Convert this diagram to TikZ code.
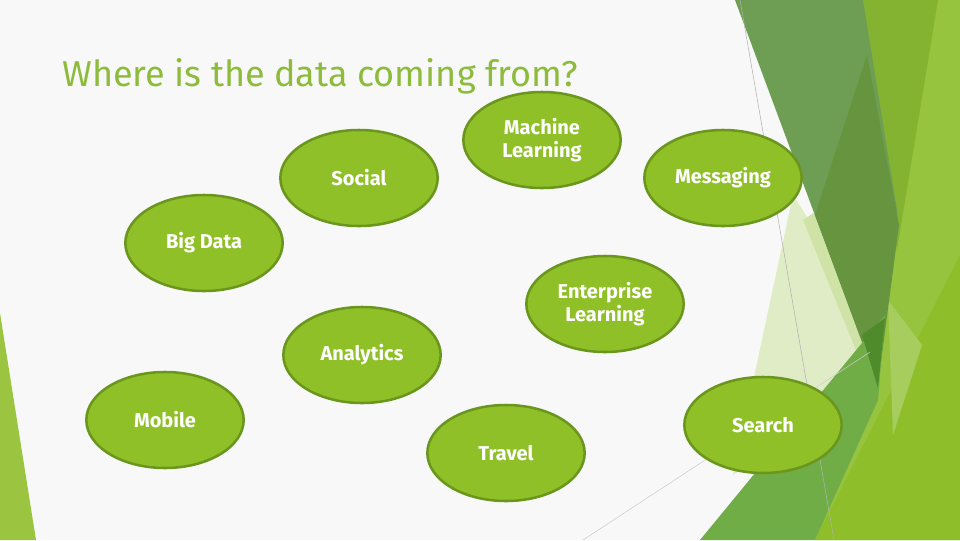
\documentclass[tikz,border=0pt]{standalone}
\usepackage{fontspec}
\setmainfont{Fira Sans}
\usetikzlibrary{shapes.geometric}

\definecolor{bgc}{HTML}{F8F8F8}
\definecolor{titlec}{HTML}{8DBB3B}
\definecolor{blobfill}{HTML}{8FC027}
\definecolor{blobline}{HTML}{6B961E}
\definecolor{leftc}{HTML}{9BC440}
\definecolor{palea}{HTML}{E0ECC6}
\definecolor{paleb}{HTML}{D0E3A6}
\definecolor{brightc}{HTML}{96C43E}
\definecolor{olivec}{HTML}{84B332}
\definecolor{lowc}{HTML}{8EBF2B}
\definecolor{lightc}{HTML}{A6CD5E}
\definecolor{greyc}{HTML}{6E9E54}
\definecolor{darkc}{HTML}{66943F}
\definecolor{midc}{HTML}{70AD47}
\definecolor{tipc}{HTML}{4F8A2B}

\begin{document}
\begin{tikzpicture}[x=0.75pt,y=-0.75pt,
  blob/.style={ellipse,draw=blobline,fill=blobfill,line width=1.9pt,
    minimum width=118pt,minimum height=72pt,inner sep=0pt,
    text=white,align=center,font=\fontsize{15}{17}\selectfont\bfseries}]
  \fill[bgc] (0,0) rectangle (960,540);
  \useasboundingbox (0,0) rectangle (960,540);

  % left facet
  \fill[leftc] (0,313) -- (36,540) -- (0,540) -- cycle;

  % right facets, back to front
  \fill[palea] (793,195) -- (880,330) -- (880,385) -- (733,475) -- cycle;
  \fill[paleb] (803,220) -- (860,360) -- (880,330) -- (815,212) -- cycle;
  \fill[brightc] (863,0) -- (960,0) -- (960,540) -- (815,540) -- (878,385) -- cycle;
  \fill[olivec] (863,0) -- (938,0) -- (897,250) -- cycle;
  \fill[lowc] (815,540) -- (960,540) -- (960,255) -- cycle;
  \fill[lightc] (888,300) -- (922,345) -- (893,435) -- cycle;
  \fill[greyc] (735,0) -- (863,0) -- (897,210) -- (878,385) -- cycle;
  \fill[darkc] (867,55) -- (899,225) -- (878,385) -- (815,215) -- cycle;
  \fill[midc] (700,540) -- (815,540) -- (878,400) -- (885,315) -- cycle;
  \fill[tipc] (862,335) -- (885,318) -- (878,388) -- cycle;

  % thin guide lines
  \draw[gray!60,line width=0.4pt] (740,0) -- (834,540);
  \draw[gray!40,line width=0.4pt] (583,540) -- (870,352);

  % title
  \node[anchor=base west,inner sep=0pt,text=titlec,
    font=\fontsize{27}{30}\selectfont]
    (title) at (62,86) {Where is the data coming from?};

  % sources
  \node[blob] (ml)         at (542,140) {Machine\\Learning};
  \node[blob] (social)     at (359,178) {Social};
  \node[blob] (msg)        at (723,178) {Messaging};
  \node[blob] (bigdata)    at (204,243) {Big Data};
  \node[blob] (enterprise) at (605,304) {Enterprise\\Learning};
  \node[blob] (analytics)  at (362,355) {Analytics};
  \node[blob] (mobile)     at (165,420) {Mobile};
  \node[blob] (search)     at (763,425) {Search};
  \node[blob] (travel)     at (506,453) {Travel};
\end{tikzpicture}
\end{document}
